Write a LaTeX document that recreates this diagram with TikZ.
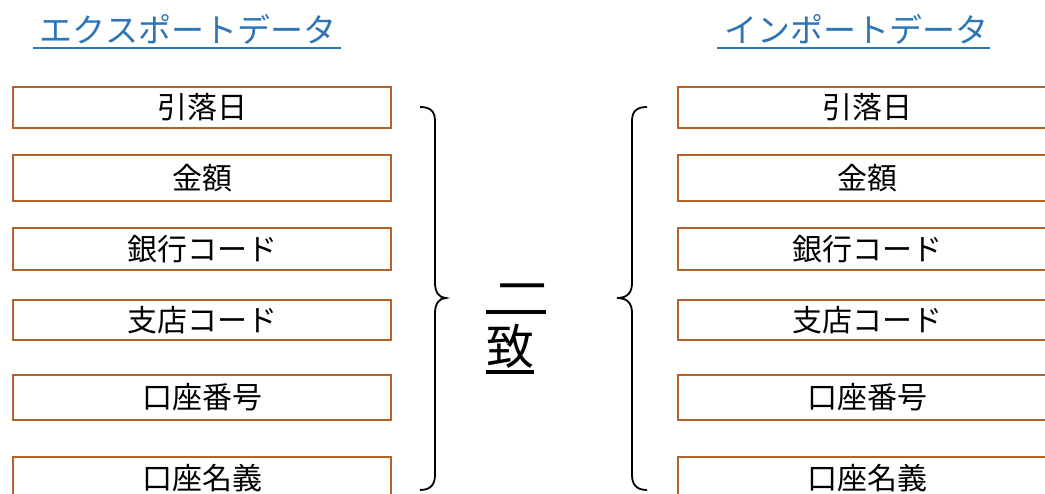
\documentclass[tikz,border=0pt]{standalone}
\usepackage{fontspec}
\setmainfont{Noto Sans CJK JP}
\definecolor{boxbrown}{RGB}{184,98,43}
\definecolor{titleblue}{RGB}{46,117,182}
\begin{document}
\begin{tikzpicture}[x=1pt,y=-1pt,
  field/.style={draw=boxbrown,line width=2.2pt,minimum width=378pt,inner sep=0pt,anchor=north west,font=\fontsize{30}{32}\selectfont},
  ttl/.style={text=titleblue,font=\fontsize{33}{36}\selectfont,inner sep=0pt,anchor=base},
  uline/.style={line width=2.6pt,titleblue},
  brace/.style={line width=1.8pt,black},
  bigtxt/.style={font=\fontsize{48}{50}\selectfont,inner sep=0pt,anchor=base},
  bline/.style={line width=4pt,black}]
\useasboundingbox (0,0) rectangle (1045,494);
% titles
\node[ttl] (t1) at (188,43) {エクスポートデータ};
\node[ttl] (t2) at (856,43) {インポートデータ};
\draw[uline] (33,48) -- (341,48);
\draw[uline] (717,48) -- (990,48);
% fields
\foreach \n/\y/\h/\t in {a/86/41/引落日, b/154/46/金額, c/227/42/銀行コード, d/299/40/支店コード, e/374/45/口座番号, f/456/42/口座名義}{
  \node[field,minimum height=\h pt] (L\n) at (12,\y) {\t};
  \node[field,minimum height=\h pt] (R\n) at (677,\y) {\t};
}
% braces
\draw[brace] (420,107) .. controls (430,107) and (435,111) .. (435,121) -- (435,283)
  .. controls (435,292) and (439,298) .. (446,298)
  .. controls (439,298) and (435,304) .. (435,313) -- (435,475)
  .. controls (435,485) and (430,490) .. (420,490);
\draw[brace] (647,107) .. controls (637,107) and (632,111) .. (632,121) -- (632,283)
  .. controls (632,292) and (628,298) .. (617,298)
  .. controls (628,298) and (632,304) .. (632,313) -- (632,475)
  .. controls (632,485) and (637,490) .. (647,490);
% center text
\node[bigtxt] (m1) at (522,305) {一};
\node[bigtxt] (m2) at (510,365) {致};
\draw[bline] (486,312) -- (546,312);
\draw[bline] (486,372) -- (534,372);
\end{tikzpicture}
\end{document}
